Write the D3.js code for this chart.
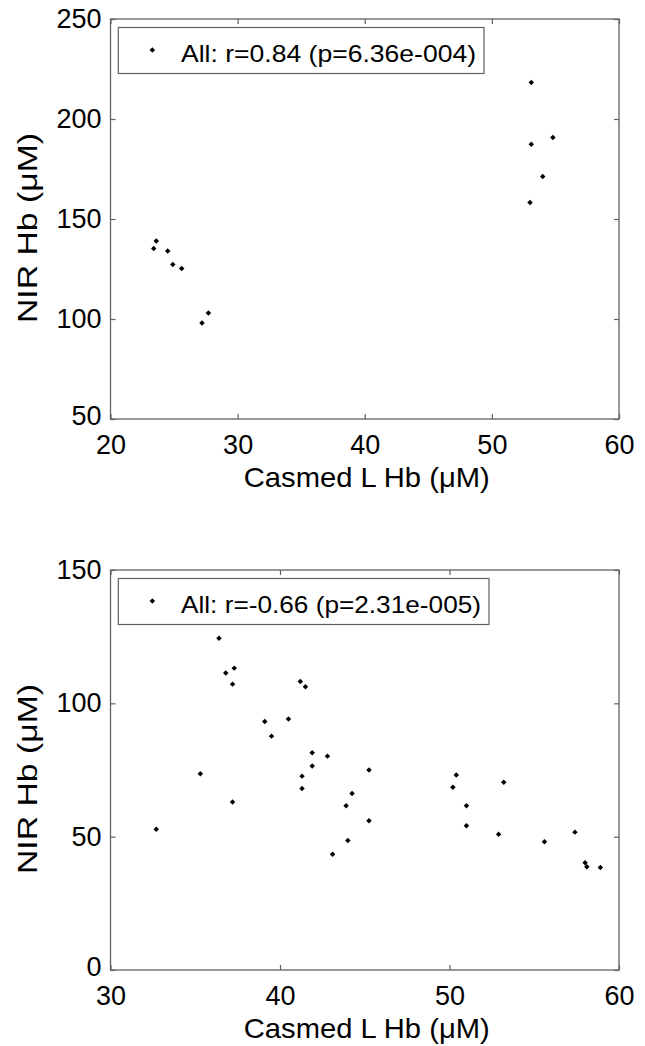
<!DOCTYPE html>
<html>
<head>
<meta charset="utf-8">
<script src="https://cdn.jsdelivr.net/npm/d3@7"></script>
<style>
  body { margin: 0; background: #fff; }
  text { font-family: "Liberation Sans", Arial, sans-serif; fill: #000; }
</style>
</head>
<body>
<div id="chart"></div>
<script>
// Page size
const FRAME_WIDTH = 645;
const FRAME_HEIGHT = 1046;

// Top panel data (Casmed L Hb vs NIR Hb)
const TOP_X = [53.1, 53.1, 54.8, 54.0, 53.0, 23.4, 23.6, 24.5, 24.9, 25.6, 27.2, 27.7];
const TOP_Y = [218.2, 187.4, 190.7, 171.2, 158.2, 135.2, 139.0, 134.0, 127.2, 125.2, 98.0, 103.0];
const TOP_X_TICKS = [20, 30, 40, 50, 60];
const TOP_Y_TICKS = [50, 100, 150, 200, 250];
const TOP_LEGEND = "All: r=0.84 (p=6.36e-004)";

// Bottom panel data
const BOT_X = [36.4, 36.8, 37.3, 37.2, 41.2, 41.5, 39.1, 40.5, 39.5, 41.9, 42.8, 41.9,
               41.3, 41.3, 45.25, 44.25, 43.9, 45.25, 44.0, 43.1, 35.3, 37.2, 32.7, 50.4,
               50.2, 51.0, 51.0, 53.2, 52.9, 55.6, 57.4, 58.0, 58.1, 58.9];
const BOT_Y = [124.4, 111.4, 113.2, 107.2, 108.2, 106.2, 93.2, 94.1, 87.7, 81.5, 80.2, 76.5,
               72.7, 68.1, 75.0, 66.2, 61.6, 56.0, 48.6, 43.4, 73.6, 63.0, 52.8, 73.1,
               68.5, 61.6, 54.1, 70.4, 50.9, 48.1, 51.7, 40.2, 38.7, 38.4];
const BOT_X_TICKS = [30, 40, 50, 60];
const BOT_Y_TICKS = [0, 50, 100, 150];
const BOT_LEGEND = "All: r=-0.66 (p=2.31e-005)";

const X_LABEL = "Casmed L Hb (\u03bcM)";
const Y_LABEL = "NIR Hb (\u03bcM)";

// Shared plot box geometry
const PLOT_LEFT = 110.5;
const PLOT_RIGHT = 619;
const PLOT_H = 400;
const AXIS_COLOR = "#616161";

const SVG = d3.select("#chart")
              .append("svg")
                .attr("width", FRAME_WIDTH)
                .attr("height", FRAME_HEIGHT);

// small diamond marker, like matlab '.'
const MARKER = d3.symbol().type(d3.symbolSquare).size(15);

// Draws one scatter panel with its frame, ticks, legend and labels
function build_panel(top, xs, ys, xTicks, yTicks, legendText, legendLen) {
    const X_SCALE = d3.scaleLinear()
                      .domain([xTicks[0], xTicks[xTicks.length - 1]])
                      .range([PLOT_LEFT, PLOT_RIGHT]);
    const Y_SCALE = d3.scaleLinear()
                      .domain([yTicks[0], yTicks[yTicks.length - 1]])
                      .range([top + PLOT_H, top]);

    const g = SVG.append("g");

    // ticks on all four sides, pointing inward
    const axes = [
        [d3.axisBottom(X_SCALE).tickValues(xTicks).tickSizeInner(-5).tickPadding(16), top + PLOT_H, true, true],
        [d3.axisTop(X_SCALE).tickValues(xTicks).tickSizeInner(-5), top, true, false],
        [d3.axisLeft(Y_SCALE).tickValues(yTicks).tickSizeInner(-5).tickPadding(9), PLOT_LEFT, false, true],
        [d3.axisRight(Y_SCALE).tickValues(yTicks).tickSizeInner(-5), PLOT_RIGHT, false, false]
    ];
    axes.forEach(([ax, pos, horiz, labels]) => {
        const a = g.append("g")
                   .attr("transform", horiz ? "translate(0," + pos + ")" : "translate(" + pos + ",0)")
                   .call(ax.tickSizeOuter(0));
        a.select(".domain").remove();
        a.selectAll(".tick line").attr("stroke", AXIS_COLOR).attr("stroke-width", 1.2);
        a.selectAll(".tick text")
            .style("font-size", "27px")
            .attr("fill", "#000")
            .style("display", labels ? null : "none");
        // lowest y label sits a little higher, clear of the x labels
        if (!horiz && labels) {
            a.selectAll(".tick text").filter((d) => d === yTicks[0]).attr("dy", "0.2em");
        }
    });

    // frame
    g.append("rect")
        .attr("x", PLOT_LEFT)
        .attr("y", top)
        .attr("width", PLOT_RIGHT - PLOT_LEFT)
        .attr("height", PLOT_H)
        .attr("fill", "none")
        .attr("stroke", AXIS_COLOR)
        .attr("stroke-width", 1.3);

    // points
    const pts = xs.map((x, i) => ({x: x, y: ys[i]}));
    g.selectAll("path.pt")
        .data(pts)
        .enter()
        .append("path")
          .attr("class", "pt")
          .attr("d", MARKER)
          .attr("transform", (d) => "translate(" + X_SCALE(d.x) + "," + Y_SCALE(d.y) + ") rotate(45)")
          .attr("fill", "#000");

    // legend
    const lg = g.append("g");
    const box = lg.append("rect")
        .attr("x", 118.3)
        .attr("y", top + 8.5)
        .attr("height", 46)
        .attr("fill", "#fff")
        .attr("stroke", AXIS_COLOR)
        .attr("stroke-width", 1.2);
    lg.append("path")
        .attr("d", MARKER)
        .attr("transform", "translate(152.3," + (top + 31) + ") rotate(45)")
        .attr("fill", "#000");
    const lt = lg.append("text")
        .attr("x", 181)
        .attr("y", top + 43)
        .attr("textLength", legendLen)
        .attr("lengthAdjust", "spacingAndGlyphs")
        .style("font-size", "24.5px")
        .text(legendText);
    const bb = lt.node().getBBox();
    box.attr("width", bb.x + bb.width + 8 - 118.3);

    // axis labels
    g.append("text")
        .attr("x", (PLOT_LEFT + PLOT_RIGHT) / 2 + 2)
        .attr("y", top + 468)
        .attr("text-anchor", "middle")
        .attr("textLength", 246)
        .attr("lengthAdjust", "spacingAndGlyphs")
        .style("font-size", "28px")
        .text(X_LABEL);
    g.append("text")
        .attr("transform", "translate(37," + (top + PLOT_H / 2 + 9) + ") rotate(-90)")
        .attr("text-anchor", "middle")
        .attr("textLength", 190)
        .attr("lengthAdjust", "spacingAndGlyphs")
        .style("font-size", "27px")
        .text(Y_LABEL);
}

build_panel(19, TOP_X, TOP_Y, TOP_X_TICKS, TOP_Y_TICKS, TOP_LEGEND, 295);
build_panel(570, BOT_X, BOT_Y, BOT_X_TICKS, BOT_Y_TICKS, BOT_LEGEND, 300);
</script>
</body>
</html>
